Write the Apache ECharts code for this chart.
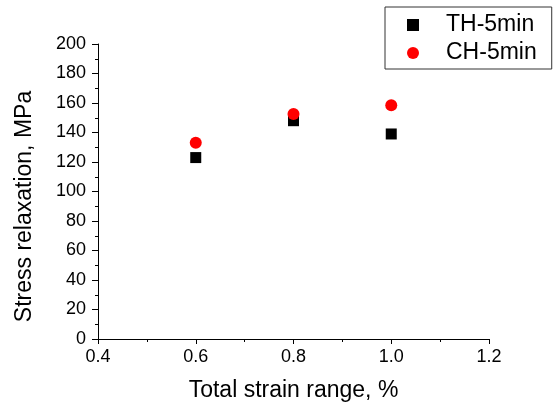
<!DOCTYPE html>
<html><head><meta charset="utf-8">
<script src="https://cdn.jsdelivr.net/npm/echarts@6/dist/echarts.min.js"></script>
<style>html,body{margin:0;padding:0;background:#fff}#c{width:553px;height:407px}</style>
</head><body><div id="c"></div>
<script>
const strainRange = [0.6, 0.8, 1.0];
const thValues = [123, 148, 139];
const chValues = [133, 152.5, 158.5];
const seriesNames = ['TH-5min', 'CH-5min'];

const font = 'Liberation Sans, Arial, sans-serif';
const chart = echarts.init(document.getElementById('c'));
chart.setOption({
  backgroundColor: '#fff',
  animation: false,
  grid: {left: 98, right: 64, top: 44, bottom: 67},
  legend: {
    orient: 'vertical', left: 385, top: 7,
    data: [{name: seriesNames[0], icon: 'rect'}, {name: seriesNames[1], icon: 'circle'}],
    itemWidth: 12, itemHeight: 12, itemGap: 2,
    padding: [5, 15, 3, 22],
    borderColor: '#333', borderWidth: 1,
    textStyle: {fontFamily: font, fontSize: 23, color: '#000', lineHeight: 26, padding: [0, 0, 0, 22]}
  },
  xAxis: {
    type: 'value', min: 0.4, max: 1.2, interval: 0.2,
    name: 'Total strain range, %', nameLocation: 'middle', nameGap: 40,
    nameTextStyle: {fontFamily: font, fontSize: 23, color: '#000'},
    axisLine: {show: true, lineStyle: {color: '#000', width: 1}},
    axisTick: {show: true, inside: false, length: 5, lineStyle: {color: '#000'}},
    minorTick: {show: true, splitNumber: 2, length: 3, lineStyle: {color: '#000'}},
    splitLine: {show: false},
    axisLabel: {fontFamily: font, fontSize: 18, color: '#000', margin: 9,
      formatter: v => v.toFixed(1)}
  },
  yAxis: {
    type: 'value', min: 0, max: 200, interval: 20,
    name: 'Stress relaxation, MPa', nameLocation: 'middle', nameGap: 62,
    nameTextStyle: {fontFamily: font, fontSize: 23, color: '#000', padding: [0, 30, 0, 0]},
    axisLine: {show: true, lineStyle: {color: '#000', width: 1}},
    axisTick: {show: true, inside: false, length: 6, lineStyle: {color: '#000'}},
    minorTick: {show: true, splitNumber: 2, length: 3, lineStyle: {color: '#000'}},
    splitLine: {show: false},
    axisLabel: {fontFamily: font, fontSize: 18, color: '#000', margin: 12}
  },
  series: [
    {name: seriesNames[0], type: 'scatter', symbol: 'rect', symbolSize: 11,
     itemStyle: {color: '#000', opacity: 1},
     data: strainRange.map((x, i) => [x, thValues[i]])},
    {name: seriesNames[1], type: 'scatter', symbol: 'circle', symbolSize: 12,
     itemStyle: {color: '#ff0000', opacity: 1},
     data: strainRange.map((x, i) => [x, chValues[i]])}
  ]
});
</script></body></html>
